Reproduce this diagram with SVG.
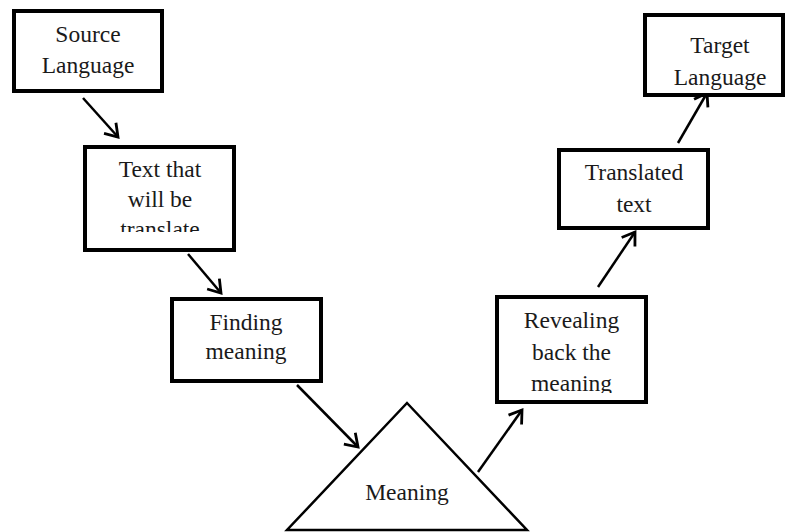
<svg xmlns="http://www.w3.org/2000/svg" width="787" height="532" viewBox="0 0 787 532">
<style>
.box{fill:#fff;stroke:#000;stroke-width:4}
.lbl{font-family:"Liberation Serif","Times New Roman",serif;font-size:23.5px;fill:#1a1a1a;text-anchor:middle}
.conn{stroke:#000;stroke-width:2.5;fill:none;marker-end:url(#ah)}
</style>
<defs>
<marker id="ah" markerUnits="userSpaceOnUse" markerWidth="30" markerHeight="30" viewBox="-15 -15 30 30" refX="0" refY="0" orient="auto" overflow="visible">
<path d="M-12,-8 L0,0 L-12,8" fill="none" stroke="#000" stroke-width="2.8" stroke-linejoin="miter"/>
</marker>
<clipPath id="c2"><rect x="85" y="147" width="149" height="85"/></clipPath>
<clipPath id="c4"><rect x="497" y="297" width="149" height="96"/></clipPath>
</defs>
<rect width="787" height="532" fill="#fff"/>
<g id="connectors">
<line class="conn" x1="83" y1="98" x2="118" y2="137"/>
<line class="conn" x1="188" y1="254" x2="221" y2="293"/>
<line class="conn" x1="297" y1="385" x2="358" y2="447"/>
<line class="conn" x1="478" y1="472" x2="522" y2="410"/>
<line class="conn" x1="598" y1="287" x2="635" y2="232"/>
<line class="conn" x1="678" y1="143" x2="707" y2="93"/>
</g>
<g id="source">
<rect class="box" x="14" y="11" width="148" height="80"/>
<text class="lbl" x="88" y="42">Source</text>
<text class="lbl" x="88" y="73">Language</text>
</g>
<g id="text-translate">
<rect class="box" x="85" y="147" width="149" height="103"/>
<g clip-path="url(#c2)">
<text class="lbl" x="160" y="177">Text that</text>
<text class="lbl" x="160" y="207">will be</text>
<text class="lbl" x="160" y="237">translate</text>
</g>
</g>
<g id="finding">
<rect class="box" x="172" y="299" width="149" height="82"/>
<text class="lbl" x="246" y="330">Finding</text>
<text class="lbl" x="246" y="359">meaning</text>
</g>
<g id="meaning">
<polygon points="407,403 527,530 287,530" fill="#fff" stroke="#000" stroke-width="2.5" stroke-linejoin="miter"/>
<text class="lbl" x="407" y="500">Meaning</text>
</g>
<g id="revealing">
<rect class="box" x="497" y="297" width="149" height="105"/>
<g clip-path="url(#c4)">
<text class="lbl" x="571.5" y="328">Revealing</text>
<text class="lbl" x="571.5" y="360">back the</text>
<text class="lbl" x="571.5" y="391">meaning</text>
</g>
</g>
<g id="translated">
<rect class="box" x="559" y="150" width="149" height="78"/>
<text class="lbl" x="634" y="180">Translated</text>
<text class="lbl" x="634" y="212">text</text>
</g>
<g id="target">
<rect class="box" x="645" y="15" width="138" height="80"/>
<text class="lbl" x="720" y="53">Target</text>
<text class="lbl" x="720" y="85">Language</text>
</g>
</svg>
